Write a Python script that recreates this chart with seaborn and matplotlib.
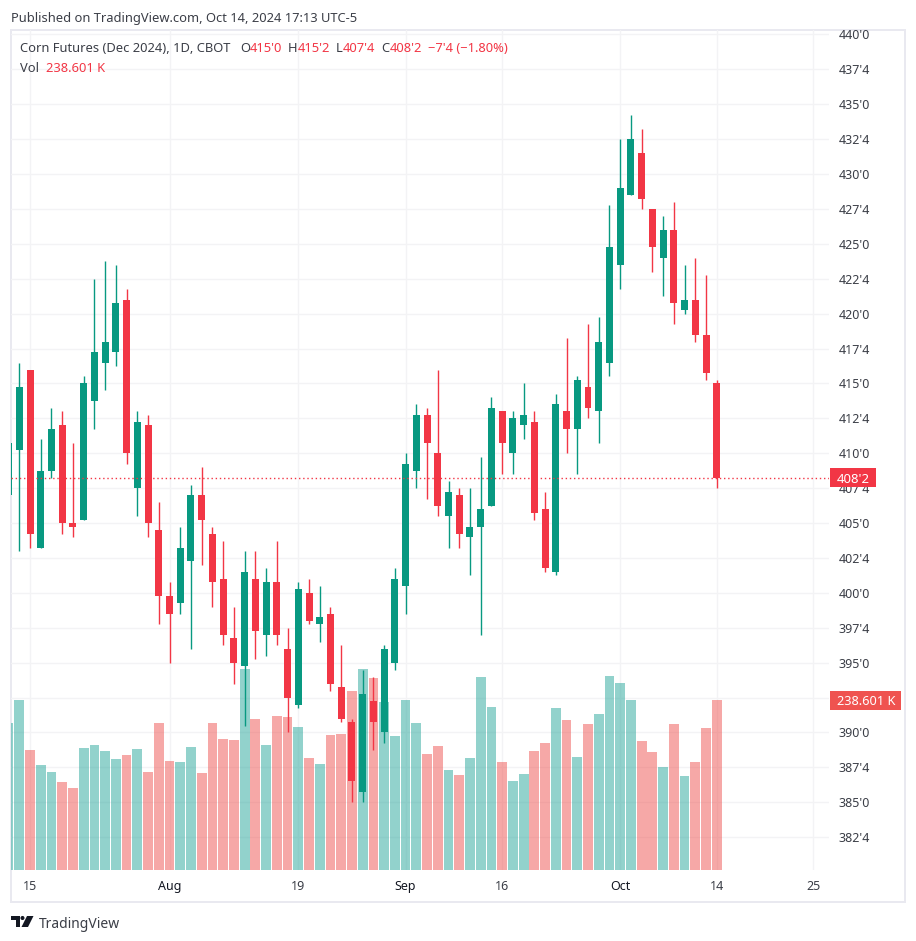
# Corn futures daily candles with volume
import pandas as pd
import matplotlib.pyplot as plt
from matplotlib.patches import Polygon, Circle, Rectangle
from matplotlib.transforms import blended_transform_factory
import seaborn as sns

UP = "#089981"
DOWN = "#f23645"
VOL_UP = "#26a69a"
VOL_DOWN = "#ef5350"
GRID = "#f3f3f5"
FRAME = "#e9e9f0"
TEXT = "#3b3e47"

# one row per session, first is Jul 11 (mostly cut off), last is Oct 14
opens = [407, 410.25, 416, 403.25, 408.75, 412, 405, 405.25, 413.75, 416.5, 417.25, 421, 407.5, 412,
         404.5, 399.75, 399.25, 402.25, 407, 404.25, 401, 396.75, 394.75, 401, 397, 400.75, 396, 392,
         400, 397.75, 398.5, 393.25, 390.75, 385.75, 392.25, 390, 395, 400.5, 408.75, 412.75, 410,
         405.5, 407, 404, 404.75, 406.25, 413, 410, 412, 412.25, 406, 401.5, 413, 411.75, 414.75, 413,
         416.5, 423.5, 428.5, 431.5, 427.5, 424, 426, 420.25, 421, 418.5, 415]
highs = [411, 416.5, 416, 411, 413.25, 413, 410.75, 415.5, 422.5, 423.75, 423.5, 421.75, 413, 412.75,
         406.5, 400.75, 404.75, 407.75, 409, 404.75, 403.75, 399, 403, 403, 401.75, 403.75, 397.5, 400.75,
         401, 400.5, 399, 396.25, 391, 394.5, 394, 396.25, 401.75, 410, 413.5, 413.25, 416,
         408, 407.5, 407.5, 409.75, 414, 413, 413, 415, 413, 407.25, 414.25, 418.25, 415.5, 419.25, 419.75,
         427.75, 432.5, 434.25, 433.25, 427.5, 427, 428, 423.5, 424, 422.75, 415.25]
lows = [406.5, 403, 403.25, 403.25, 408.25, 404.25, 404, 405.25, 411.75, 414.5, 416.25, 409.25, 405.5, 404,
        397.75, 395, 398.5, 396, 402, 399, 396.25, 393.5, 390.5, 395.25, 395.5, 396.25, 390, 391.75,
        397.75, 396.5, 393, 390.75, 385, 385, 388.75, 389.25, 394.5, 398.5, 407.5, 406.75, 405.5,
        403.25, 403.25, 401.25, 397, 406.25, 408.5, 408.5, 411, 405.25, 401.5, 401.25, 410, 408.5, 412.5, 410.75,
        415.5, 421.75, 428.5, 427.5, 423, 421.25, 419.25, 420, 418, 415.25, 407.5]
closes = [410.75, 414.75, 404.25, 408.75, 411.75, 405, 404.75, 415, 417.25, 418, 420.75, 410, 412.25, 405,
          399.75, 398.5, 403.25, 407, 405.25, 400.75, 397, 395, 401.5, 397.25, 400.75, 397, 392.5, 400.25,
          398, 398.25, 393.5, 391, 386.5, 392.75, 390.75, 396, 401, 409.25, 412.75, 410.75, 406.25,
          407.25, 404.25, 404.75, 406, 413.25, 410.75, 412.5, 412.75, 405.75, 401.75, 413.5, 411.75, 415.25, 413.25, 418,
          424.75, 429, 432.5, 428.25, 424.75, 426, 420.75, 421, 418.5, 415.75, 408.25]
# volume in thousands of contracts
volumes = [206.7, 238.6, 168.4, 147.4, 137.5, 123.5, 115.1, 171.2, 175.4, 167.0, 155.8, 161.4, 169.8, 137.5,
           206.3, 153.0, 151.6, 172.6, 136.1, 206.3, 183.9, 182.5, 282.1, 211.9, 175.4, 216.1, 214.7, 200.7,
           157.2, 148.8, 189.5, 190.9, 251.2, 282.1, 269.5, 235.8, 188.1, 238.6, 206.3, 162.8, 174.0,
           140.4, 133.3, 157.2, 270.9, 228.8, 151.6, 124.9, 134.7, 167.0, 178.2, 227.4, 210.5, 158.6, 204.9, 218.9,
           272.3, 262.5, 238.6, 181.1, 165.6, 144.6, 204.9, 131.9, 151.6, 199.3, 238.6]

# time axis: session number, with room after the last candle
date_ticks = [2, 15, 27, 37, 46, 57, 66, 75]
date_labels = ["15", "Aug", "19", "Sep", "16", "Oct", "14", "25"]
month_labels = ["Aug", "Sep", "Oct"]

# 392'4 sits under the volume tag in the original, so it has no label
price_ticks = [382.5 + 2.5 * k for k in range(24)]
price_labels = ["382'4", "385'0", "387'4", "390'0", "", "395'0", "397'4", "400'0", "402'4", "405'0",
                "407'4", "410'0", "412'4", "415'0", "417'4", "420'0", "422'4", "425'0", "427'4", "430'0",
                "432'4", "435'0", "437'4", "440'0"]

last_close = 408.25
last_volume = 238.601

df = pd.DataFrame({"session": range(len(opens)), "open": opens, "high": highs, "low": lows,
                   "close": closes, "volume": volumes})
df["side"] = ["up" if c >= o else "down" for o, c in zip(df["open"], df["close"])]

sns.set_theme(style="white")
plt.rcParams["font.family"] = ["Noto Sans", "DejaVu Sans"]

W, H = 916, 941
fig = plt.figure(figsize=(W / 100, H / 100), dpi=100, facecolor="white")


def fx(px):
    return px / W


def fy(px):
    return 1 - px / H


fig.add_artist(Rectangle((fx(11), fy(902)), fx(894), 872 / H, transform=fig.transFigure,
                         facecolor="white", edgecolor=FRAME, linewidth=1.44, zorder=-1))

# pane: left 11 px, right 829 px, top 30 px, bottom 870 px
rect = [fx(11), fy(870), 818 / W, 840 / H]
xlim = (0.2265, 76.46)
ylim = (380.15, 440.32)

base = fig.add_axes(rect)
base.patch.set_visible(False)
vol_ax = base.twinx()
ax = base.twinx()
vol_ax.patch.set_visible(False)
ax.patch.set_visible(False)

# volume, bottom layer
sns.barplot(data=df, x="session", y="volume", hue="side", hue_order=["up", "down"],
            palette={"up": VOL_UP, "down": VOL_DOWN}, native_scale=True, dodge=False, width=0.91,
            saturation=1, alpha=0.5, errorbar=None, legend=False, linewidth=0, ax=vol_ax)

# candles
colors = [UP if s == "up" else DOWN for s in df["side"]]
wicks = ax.vlines(df["session"], df["low"], df["high"], colors=colors, linewidth=1.0)
wicks.set_snap(True)
ax.bar(df["session"], (df["close"] - df["open"]).abs(), bottom=df[["open", "close"]].min(axis=1),
       width=0.65, color=colors, linewidth=0)
ax.axhline(last_close, color=DOWN, linewidth=1.0, linestyle=(0, (1, 2)), zorder=5)

vol_ax.set(xlabel="", ylabel="", yticks=[])
ax.set(xlabel="", ylabel="", yticks=[])

base.set_xticks(date_ticks, date_labels)
base.yaxis.tick_right()
base.set_yticks(price_ticks, price_labels)
base.grid(True, color=GRID, linewidth=1.0)
base.tick_params(axis="both", length=0, labelsize=9, labelcolor=TEXT)
base.tick_params(axis="x", pad=7)
base.tick_params(axis="y", pad=7)
for lab in base.get_xticklabels():
    if lab.get_text() in month_labels:
        lab.set_fontweight("bold")
        lab.set_color("#131722")

base.set_xlim(xlim)
base.set_ylim(ylim)
ax.set_ylim(ylim)
vol_ax.set_ylim(0, 840 * 238.601 / 170)

for a in (base, vol_ax, ax):
    for s in a.spines.values():
        s.set_visible(False)

# tags on the price scale
price_tr = blended_transform_factory(fig.transFigure, ax.transData)
ax.add_patch(Rectangle((fx(830), last_close - 9.5 / 13.96), 46 / W, 19 / 13.96, transform=price_tr,
                       facecolor=DOWN, edgecolor="none", clip_on=False, zorder=6))
ax.text(fx(853), last_close, "408'2", transform=price_tr, color="white", fontsize=9.5, fontweight="bold",
        ha="center", va="center_baseline", clip_on=False, zorder=7)
vol_tr = blended_transform_factory(fig.transFigure, vol_ax.transData)
vol_ax.add_patch(Rectangle((fx(830), last_volume - 9.5 * 238.601 / 170), 71 / W, 19 * 238.601 / 170,
                           transform=vol_tr, facecolor=VOL_DOWN, edgecolor="none", clip_on=False))
vol_ax.text(fx(866), last_volume, "238.601 K", transform=vol_tr, color="white", fontsize=9.2,
            fontweight="bold", ha="center", va="center_baseline", clip_on=False)

# header
fig.text(fx(11), fy(17), "Published on TradingView.com, Oct 14, 2024 17:13 UTC-5", fontsize=9.3, color=TEXT,
         va="center_baseline")
legend_parts = [(20, "Corn Futures (Dec 2024), 1D, CBOT", TEXT), (240.5, "O", TEXT), (250, "415'0", DOWN),
                (288, "H", TEXT), (297.5, "415'2", DOWN), (336, "L", TEXT), (342.5, "407'4", DOWN),
                (381.5, "C", TEXT), (389.5, "408'2", DOWN), (427.5, "−7'4 (−1.80%)", DOWN)]
for x, part, col in legend_parts:
    fig.text(fx(x), fy(47.5), part, fontsize=9.3, color=col, va="center_baseline")
fig.text(fx(20), fy(66.5), "Vol", fontsize=9.3, color=TEXT, va="center_baseline")
fig.text(fx(46.5), fy(66.5), "238.601 K", fontsize=9.3, color=DOWN, va="center_baseline")

# TradingView mark and name
logo = "#131722"
fig.add_artist(Polygon([(fx(11), fy(916)), (fx(19.5), fy(916)), (fx(19.5), fy(927)), (fx(15.5), fy(927)),
                        (fx(15.5), fy(920)), (fx(11), fy(920))], transform=fig.transFigure, color=logo, lw=0))
fig.add_artist(Circle((fx(22.5), fy(918)), 2 / W, transform=fig.transFigure, color=logo, lw=0))
fig.add_artist(Polygon([(fx(27), fy(916)), (fx(33.5), fy(916)), (fx(28), fy(927)), (fx(21.5), fy(927))],
                       transform=fig.transFigure, color=logo, lw=0))
fig.text(fx(38.5), fy(922), "TradingView", fontsize=10, color="#3b3e47", va="center_baseline")

fig.savefig("out.png", dpi=100)
